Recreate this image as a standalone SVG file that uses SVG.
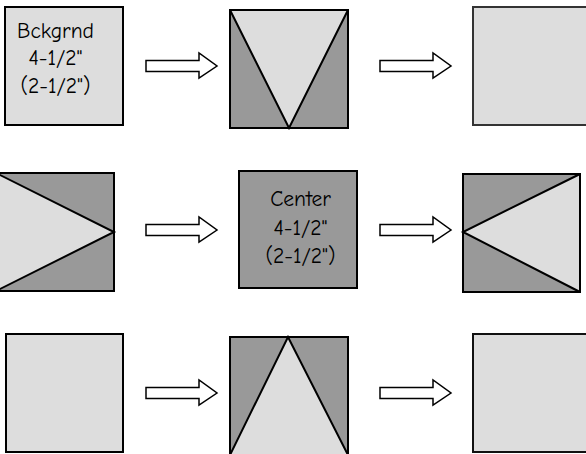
<svg xmlns="http://www.w3.org/2000/svg" width="586" height="454" viewBox="0 0 586 454">
<style>
.lt{fill:#dddddd}
.dk{fill:#999999}
.bd{fill:none;stroke:#000;stroke-width:2}
.ln{fill:none;stroke:#000;stroke-width:2;stroke-linejoin:miter}
.ar{fill:#fff;stroke:#000;stroke-width:1.5;stroke-linejoin:miter}
.tx{font-family:"Comic Sans MS","Comic Neue","DejaVu Sans",sans-serif;font-size:21.5px;fill:#000;text-anchor:middle}
</style>
<defs>
<polygon id="arrow" points="0,-5.5 53,-5.5 53,-13 71,0 53,12 53,5.5 0,5.5"/>
</defs>
<g id="bckgrnd">
<rect x="5" y="7" width="118" height="118" class="lt"/>
<rect x="5" y="7" width="118" height="118" class="bd"/>
<text class="tx" x="55.5" y="38">Bckgrnd</text>
<text class="tx" x="55.5" y="65">4-1/2"</text>
<text class="tx" x="55.5" y="93">(2-1/2")</text>
</g>
<g id="r1c2">
<rect x="230" y="10" width="118" height="118" class="dk"/>
<polygon points="230,10 348,10 289,128" class="lt"/>
<polyline points="230,10 289,128 348,10" class="ln"/>
<rect x="230" y="10" width="118" height="118" class="bd"/>
</g>
<g id="r1c3">
<rect x="473" y="7" width="118" height="118" class="lt" stroke="#333" stroke-width="2"/>
</g>
<g id="r2c1">
<rect x="-4" y="173" width="118" height="118" class="dk"/>
<polygon points="-4,173 114,232 -4,291" class="lt"/>
<polyline points="-4,173 114,232 -4,291" class="ln"/>
<rect x="-4" y="173" width="118" height="118" class="bd"/>
</g>
<g id="center">
<rect x="239" y="171" width="118" height="117" class="dk"/>
<rect x="239" y="171" width="118" height="117" class="bd"/>
<text class="tx" x="300.5" y="206">Center</text>
<text class="tx" x="300.5" y="235">4-1/2"</text>
<text class="tx" x="300.5" y="263">(2-1/2")</text>
</g>
<g id="r2c3">
<rect x="463" y="174" width="117" height="118" class="dk"/>
<polygon points="580,174 463,232 580,292" class="lt"/>
<polyline points="580,174 463,232 580,292" class="ln"/>
<rect x="463" y="174" width="117" height="118" class="bd"/>
</g>
<g id="r3c1">
<rect x="6" y="334" width="117" height="118" class="lt"/>
<rect x="6" y="334" width="117" height="118" class="bd"/>
</g>
<g id="r3c2">
<rect x="230" y="337" width="118" height="118" class="dk"/>
<polygon points="288,337 230,455 348,455" class="lt"/>
<polyline points="230,455 288,337 348,455" class="ln"/>
<rect x="230" y="337" width="118" height="118" class="bd"/>
</g>
<g id="r3c3">
<rect x="473" y="334" width="118" height="118" class="lt" stroke="#111" stroke-width="2"/>
</g>
<g id="connectors">
<use href="#arrow" x="146" y="66" class="ar"/>
<use href="#arrow" x="380" y="66" class="ar"/>
<use href="#arrow" x="146" y="230" class="ar"/>
<use href="#arrow" x="380" y="230" class="ar"/>
<use href="#arrow" x="146" y="393" class="ar"/>
<use href="#arrow" x="380" y="393" class="ar"/>
</g>
</svg>
